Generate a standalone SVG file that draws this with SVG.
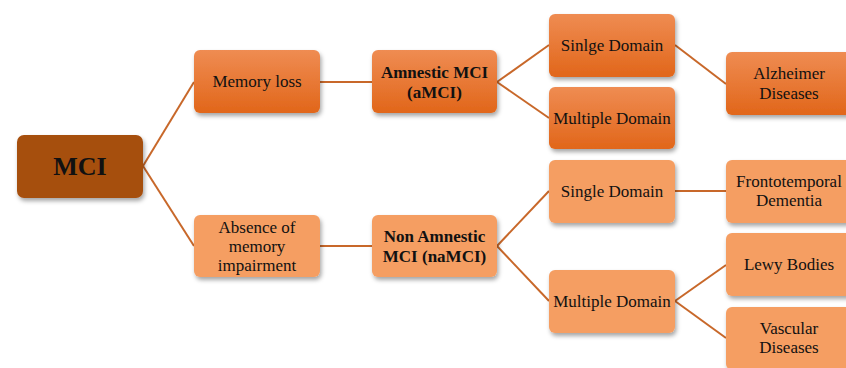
<svg xmlns="http://www.w3.org/2000/svg" width="846" height="368" viewBox="0 0 846 368">
<defs>
<linearGradient id="gDark" x1="0" y1="0" x2="0" y2="1">
<stop offset="0" stop-color="#EF8C52"/>
<stop offset="1" stop-color="#E1661A"/>
</linearGradient>
<filter id="sh" x="-10%" y="-10%" width="125%" height="135%">
<feDropShadow dx="1.5" dy="3" stdDeviation="2" flood-color="#000" flood-opacity="0.35"/>
</filter>
<style>
.box{filter:url(#sh);}
.dark{fill:url(#gDark);}
.light{fill:#F59E62;}
.root{fill:#A64F0E;}
.t{font-size:17px;fill:#111;text-anchor:middle;}
.b{font-weight:bold;}
.conn line{stroke:#C8682A;stroke-width:2;}
</style>
</defs>
<rect width="846" height="368" fill="#fff"/>
<g id="connectors" class="conn">
<line x1="143" y1="166" x2="194" y2="82"/>
<line x1="143" y1="166" x2="194" y2="246"/>
<line x1="320" y1="82" x2="372" y2="82"/>
<line x1="320" y1="246" x2="372" y2="246"/>
<line x1="497" y1="82" x2="549" y2="45"/>
<line x1="497" y1="82" x2="549" y2="118"/>
<line x1="675" y1="45" x2="726" y2="84"/>
<line x1="497" y1="246" x2="549" y2="191"/>
<line x1="497" y1="246" x2="549" y2="301"/>
<line x1="675" y1="191" x2="726" y2="191"/>
<line x1="675" y1="301" x2="726" y2="265"/>
<line x1="675" y1="301" x2="726" y2="338"/>
</g>
<g id="nodes" font-family="Liberation Serif, Times New Roman, serif">
<g id="mci"><rect class="box root" x="17" y="135" width="126" height="63" rx="7"/><text class="t b" x="80" y="175" style="font-size:26px">MCI</text></g>
<g id="memory-loss"><rect class="box dark" x="194" y="50" width="126" height="63" rx="6"/><text class="t" x="257" y="87">Memory loss</text></g>
<g id="amnestic"><rect class="box dark" x="372" y="50" width="125" height="63" rx="6"/><text class="t b" x="434.5" y="78">Amnestic MCI</text><text class="t b" x="434.5" y="98">(aMCI)</text></g>
<g id="absence"><rect class="box light" x="194" y="215" width="126" height="62" rx="6"/><text class="t" x="257" y="233">Absence of</text><text class="t" x="257" y="252">memory</text><text class="t" x="257" y="271">impairment</text></g>
<g id="non-amnestic"><rect class="box light" x="372" y="215" width="125" height="62" rx="6"/><text class="t b" x="434.5" y="242">Non Amnestic</text><text class="t b" x="434.5" y="262">MCI (naMCI)</text></g>
<g id="sinlge-domain"><rect class="box dark" x="549" y="14" width="126" height="63" rx="6"/><text class="t" x="612" y="51">Sinlge Domain</text></g>
<g id="multiple-domain-a"><rect class="box dark" x="549" y="87" width="126" height="62" rx="6"/><text class="t" x="612" y="124">Multiple Domain</text></g>
<g id="alzheimer"><rect class="box dark" x="726" y="52" width="126" height="63" rx="6"/><text class="t" x="789" y="79">Alzheimer</text><text class="t" x="789" y="99">Diseases</text></g>
<g id="single-domain"><rect class="box light" x="549" y="160" width="126" height="63" rx="6"/><text class="t" x="612" y="197">Single Domain</text></g>
<g id="multiple-domain-na"><rect class="box light" x="549" y="270" width="126" height="63" rx="6"/><text class="t" x="612" y="307">Multiple Domain</text></g>
<g id="frontotemporal"><rect class="box light" x="726" y="160" width="126" height="63" rx="6"/><text class="t" x="789" y="187">Frontotemporal</text><text class="t" x="789" y="206">Dementia</text></g>
<g id="lewy"><rect class="box light" x="726" y="233" width="126" height="63" rx="6"/><text class="t" x="789" y="270">Lewy Bodies</text></g>
<g id="vascular"><rect class="box light" x="726" y="307" width="126" height="63" rx="6"/><text class="t" x="789" y="334">Vascular</text><text class="t" x="789" y="353">Diseases</text></g>
</g>
</svg>
